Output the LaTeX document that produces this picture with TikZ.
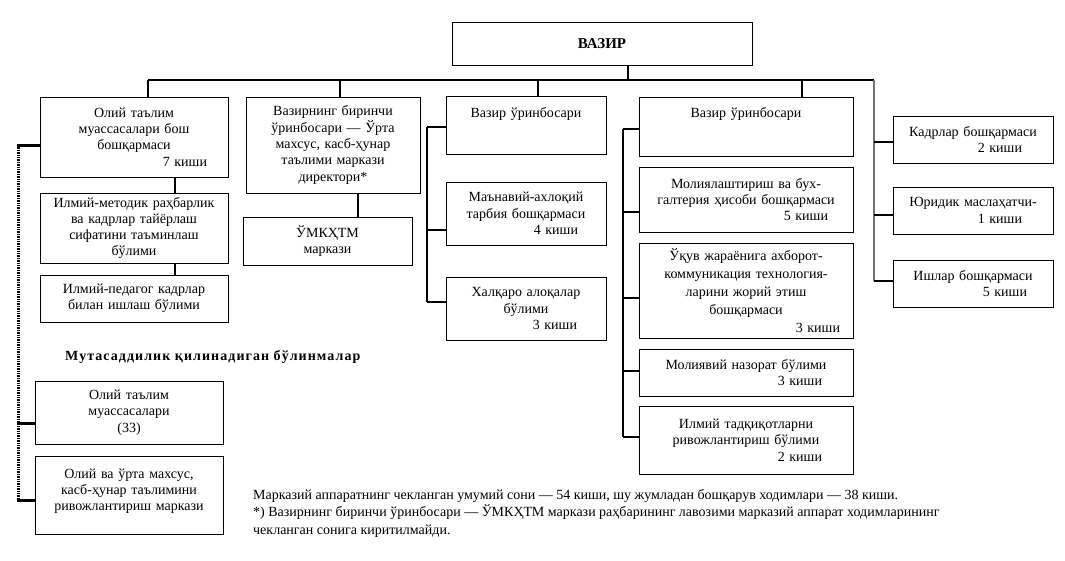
\documentclass[tikz,border=0pt]{standalone}
\usepackage{fontspec}
\setmainfont{Liberation Serif}
\begin{document}
\begin{tikzpicture}[x=1pt,y=-1pt,
  bx/.style={draw, line width=1pt, inner xsep=4pt, inner ysep=0pt, align=center,
    font=\fontsize{14}{16.3}\selectfont},
  ln/.style={line width=1.1pt},
  thk/.style={line width=3pt},
  dots/.style={line width=3pt, dash pattern=on 1.4pt off 1pt},
  gry/.style={line width=1.8pt, draw=black!55}]
\useasboundingbox (0,0) rectangle (1065,560);
\newcommand{\kishi}[2]{\\\makebox[\hsize][r]{#1 киши\kern#2pt}}
% top
\node[bx, font=\bfseries\fontsize{15}{17}\selectfont, minimum width=300pt, minimum height=43pt] (vazir) at (602,43.5) {ВАЗИР};
% column 1
\node[bx, minimum width=188pt, text width=180pt, minimum height=80pt] (A) at (134,137) {Олий таълим\\муассасалари бош\\бошқармаси\kishi{7}{17}};
\node[bx, minimum width=188pt, text width=180pt, minimum height=70pt] (B) at (134,228) {Илмий-методик раҳбарлик\\ва кадрлар тайёрлаш\\сифатини таъминлаш\\бўлими};
\node[bx, minimum width=188pt, text width=180pt, minimum height=47pt] (C) at (134,298.5) {Илмий-педагог кадрлар\\билан ишлаш бўлими};
\node[anchor=west, inner sep=0pt, font=\bfseries\fontsize{14}{16}\selectfont\addfontfeature{LetterSpace=7.5}] (title) at (65,357) {Мутасаддилик қилинадиган бўлинмалар};
\node[bx, minimum width=188pt, text width=180pt, minimum height=63pt] (D) at (129,412.5) {Олий таълим\\муассасалари\\(33)};
\node[bx, minimum width=188pt, text width=180pt, minimum height=78pt] (E) at (129,495) {Олий ва ўрта махсус,\\касб-ҳунар таълимини\\ривожлантириш маркази\\[-6pt]\mbox{}};
% column 2
\node[bx, minimum width=174pt, text width=166pt, minimum height=96pt] (F) at (333,145) {Вазирнинг биринчи\\ўринбосари — Ўрта\\махсус, касб-ҳунар\\таълими маркази\\директори*};
\node[bx, minimum width=169pt, text width=161pt, minimum height=48pt] (G) at (327.5,241) {ЎМКҲТМ\\маркази};
% column 3
\node[bx, minimum width=160pt, text width=152pt, minimum height=58pt] (H) at (526,125) {Вазир ўринбосари\\[8pt]\mbox{}};
\node[bx, minimum width=160pt, text width=152pt, minimum height=63pt] (I) at (526,213.5) {Маънавий-ахлоқий\\тарбия бошқармаси\kishi{4}{24}};
\node[bx, minimum width=160pt, text width=152pt, minimum height=63pt] (J) at (526,308.5) {Халқаро алоқалар\\бўлими\kishi{3}{25}};
% column 4
\node[bx, minimum width=214pt, text width=206pt, minimum height=59pt] (K) at (746,126.5) {Вазир ўринбосари\\[11pt]\mbox{}};
\node[bx, minimum width=214pt, text width=206pt, minimum height=65pt] (L) at (746,199.5) {Молиялаштириш ва бух-\\галтерия ҳисоби бошқармаси\kishi{5}{21}};
\node[bx, font=\fontsize{14}{18}\selectfont, minimum width=214pt, text width=206pt, minimum height=95pt] (M) at (746,290.5) {Ўқув жараёнига ахборот-\\коммуникация технология-\\ларини жорий этиш\\бошқармаси\kishi{3}{9}};
\node[bx, minimum width=214pt, text width=206pt, minimum height=47pt] (N) at (746,372.5) {Молиявий назорат бўлими\kishi{3}{27}};
\node[bx, minimum width=214pt, text width=206pt, minimum height=68pt] (O) at (746,440) {Илмий тадқиқотларни\\ривожлантириш бўлими\kishi{2}{27}};
% column 5
\node[bx, minimum width=160pt, text width=152pt, minimum height=47pt] (P) at (973,139.5) {Кадрлар бошқармаси\kishi{2}{27}};
\node[bx, minimum width=160pt, text width=152pt, minimum height=47pt] (Q) at (973,210.5) {Юридик маслаҳатчи-\kishi{1}{27}};
\node[bx, minimum width=160pt, text width=152pt, minimum height=47pt] (R) at (973,283.5) {Ишлар бошқармаси\kishi{5}{22}};
% footnote
\node[anchor=north west, align=left, inner sep=0pt, font=\fontsize{14}{17.5}\selectfont] (note) at (253,489) {Марказий аппаратнинг чекланган умумий сони — 54 киши, шу жумладан бошқарув ходимлари — 38 киши.\\*) Вазирнинг биринчи ўринбосари — ЎМКҲТМ маркази раҳбарининг лавозими марказий аппарат ходимларининг\\чекланган сонига киритилмайди.};
% connectors
\coordinate (hub) at (628,80);
\coordinate (busL) at (148,80);
\coordinate (busR) at (874,80);
\coordinate (bF) at (340,80);
\coordinate (bH) at (538,80);
\coordinate (bK) at (802,80);
\draw[ln] (vazir.south -| hub) -- (hub);
\draw[ln] (busL) -- (busR);
\draw[ln] (busL) -- (busL |- A.north);
\draw[ln] (bF) -- (bF |- F.north);
\draw[ln] (bH) -- (bH |- H.north);
\draw[ln] (bK) -- (bK |- K.north);
\coordinate (xAB) at (175,0);
\draw[ln] (A.south -| xAB) -- (B.north -| xAB);
\draw[ln] (B.south -| xAB) -- (C.north -| xAB);
\coordinate (xFG) at (358,0);
\draw[ln] (F.south -| xFG) -- (G.north -| xFG);
% column 3 spine
\coordinate (c3t) at (427,127);
\coordinate (c3b) at (427,302);
\draw[ln] (c3t) -- (c3b);
\foreach \yy/\nn in {127/H,230/I,302/J}{
  \coordinate (t) at (427,\yy);
  \draw[ln] (t) -- (t -| \nn.west);
}
% column 4 spine
\coordinate (c4t) at (623,129);
\coordinate (c4b) at (623,437);
\draw[ln] (c4t) -- (c4b);
\foreach \yy/\nn in {129/K,212/L,298/M,371/N,437/O}{
  \coordinate (t) at (623,\yy);
  \draw[ln] (t) -- (t -| \nn.west);
}
% column 5 spine
\coordinate (c5b) at (874,281);
\draw[gry] (busR) -- (c5b);
\foreach \yy/\nn in {142/P,215/Q,281/R}{
  \coordinate (t) at (874,\yy);
  \draw[ln] (t) -- (t -| \nn.west);
}
% left dotted spine
\coordinate (lt) at (18,145);
\coordinate (lb) at (18,500);
\draw[dots] (lt) -- (lb);
\foreach \yy/\nn in {145/A,423/D,500/E}{
  \coordinate (t) at (17,\yy);
  \draw[thk] (t) -- (t -| \nn.west);
}
\end{tikzpicture}
\end{document}
